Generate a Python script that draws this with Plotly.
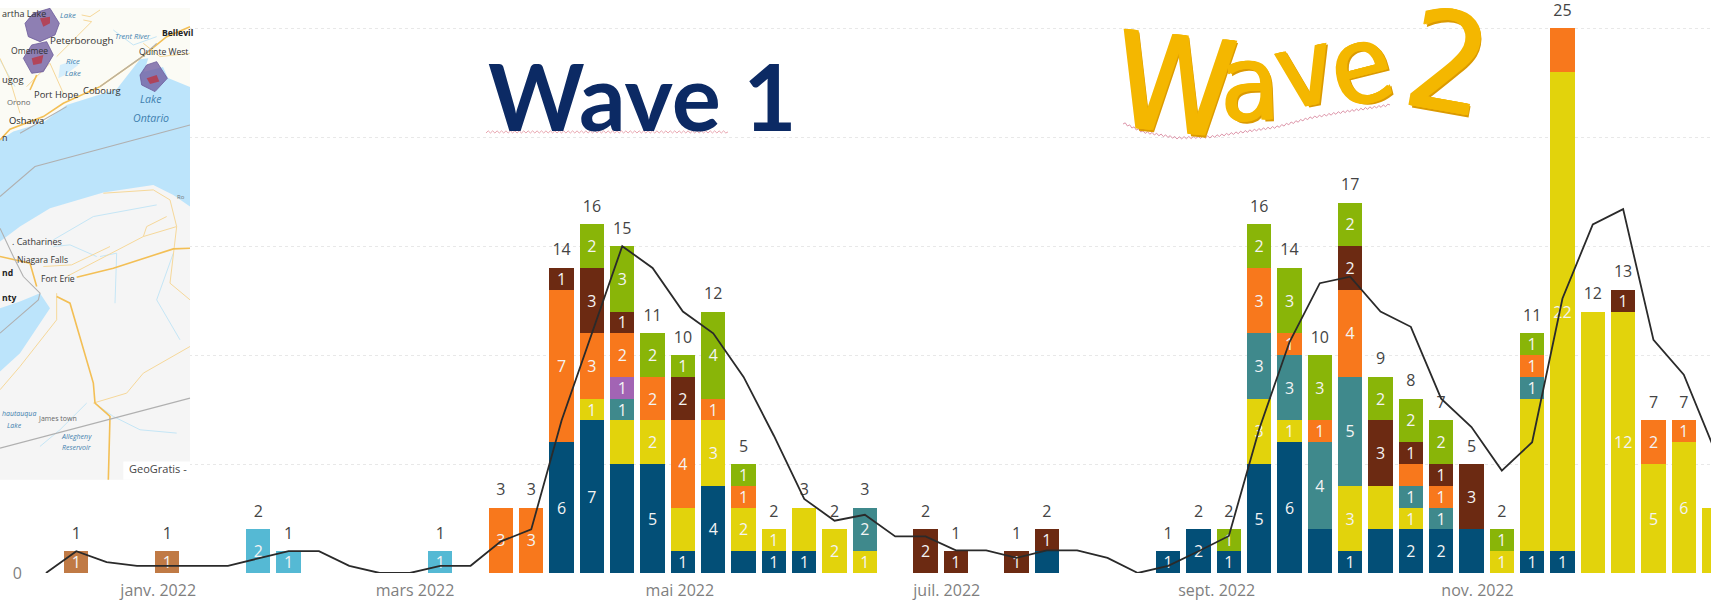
import plotly.graph_objects as go

# ---------- data ----------
weeks = list(range(0, 55))
line_weeks = list(range(-1, 55))
line_values = [0, 1, .5, .33, .33, .33, .33, .67, 1, 1, .33, 0, 0, .33, .33, 1.45, 2, 7, 11, 15, 14, 12, 11, 9, 6.3, 3.4, 2.4,
               2.67, 1.68, 1.68, 1.04, 1.04, .7, 1.04, 1.04, .69, 0, .33, 1, 1.7, 6.6, 10.6, 13.3, 13.6, 12, 11.3, 8, 6.7, 4.7, 6,
               12.6, 16, 16.7, 10.7, 9.1, 5.7]

def week_series(pairs):
    return [pairs.get(w, None) for w in weeks]

tan = week_series({0: 1, 3: 1})
cyan = week_series({6: 2, 7: 1, 12: 1})
navy = week_series({16: 6, 17: 7, 18: 5, 19: 5, 20: 1, 21: 4, 22: 1, 23: 1, 24: 1, 32: 1, 36: 1, 37: 2, 38: 1, 39: 5, 40: 6, 41: 2,
                    42: 1, 43: 2, 44: 2, 45: 2, 46: 2, 48: 1, 49: 1})
yellow = week_series({17: 1, 18: 2, 19: 2, 20: 2, 21: 3, 22: 2, 23: 1, 24: 2, 25: 2, 26: 1, 39: 3, 40: 1, 42: 3, 43: 2, 44: 1, 47: 1,
                      48: 7, 49: 22, 50: 12, 51: 12, 52: 5, 53: 6, 54: 3})
teal = week_series({18: 1, 26: 2, 39: 3, 40: 3, 41: 4, 42: 5, 44: 1, 45: 1, 48: 1})
purple = week_series({18: 1})
orange = week_series({14: 3, 15: 3, 16: 7, 17: 3, 18: 2, 19: 2, 20: 4, 21: 1, 22: 1, 39: 3, 40: 1, 41: 1, 42: 4, 44: 1, 45: 1, 48: 1,
                      49: 2, 52: 2, 53: 1})
maroon = week_series({16: 1, 17: 3, 18: 1, 20: 2, 28: 2, 29: 1, 31: 1, 32: 1, 42: 2, 43: 3, 44: 1, 45: 1, 46: 3, 51: 1})
green = week_series({17: 2, 18: 3, 19: 2, 20: 1, 21: 4, 22: 1, 38: 1, 39: 2, 40: 3, 41: 3, 42: 2, 43: 2, 44: 2, 45: 2, 47: 1, 48: 1})

hidden_labels = {"navy": [18, 22, 32, 41, 43, 46],
                 "yellow": [18, 20, 24, 43, 48, 50, 54],
                 "orange": [44, 49]}

tick_positions = [2.7, 11.17, 19.9, 28.7, 37.6, 46.2]
tick_labels = ["janv. 2022", "mars 2022", "mai 2022", "juil. 2022", "sept. 2022", "nov. 2022"]

stack = [("navy", navy, "#034F77"), ("yellow", yellow, "#E2D30C"), ("teal", teal, "#3F898C"), ("purple", purple, "#A264B4"),
         ("orange", orange, "#F8781C"), ("maroon", maroon, "#6C2A12"), ("green", green, "#89B508"),
         ("tan", tan, "#C07A45"), ("cyan", cyan, "#55B9D4")]

# ---------- layout geometry (pixels) ----------
W, H = 1711, 603
PL, Y0 = 33, 573.3
X_ZERO, X_STEP, Y_UNIT = 76.3, 30.33, 21.8

def px(x):
    return (x - PL) / (W - PL)

def py(y):
    return (Y0 - y) / Y0

fig = go.Figure()

for name, vals, col in stack:
    hide = hidden_labels.get(name, [])
    text = ["" if (v is None or w in hide) else str(v) for w, v in zip(weeks, vals)]
    fig.add_bar(x=weeks, y=vals, name=name, marker=dict(color=col, line_width=0), width=0.8, text=text,
                textposition="inside", insidetextanchor="middle", textangle=0, constraintext="none",
                textfont=dict(color="#F4F4F4", size=16, family="Open Sans"), hoverinfo="skip")

totals = [sum((s[1][i] or 0) for s in stack) for i in range(len(weeks))]
lab_x = [w for w, t in zip(weeks, totals) if t]
lab_y = [t for t in totals if t]
fig.add_scatter(x=lab_x, y=lab_y, mode="markers+text", text=[str(t) for t in lab_y], textposition="top center",
                marker=dict(size=12, opacity=0), textfont=dict(color="#444444", size=16, family="Open Sans"),
                cliponaxis=False, hoverinfo="skip")
fig.add_scatter(x=line_weeks, y=line_values, mode="lines", line=dict(color="#2A2A2A", width=1.8), hoverinfo="skip")

shapes, annos = [], []

def path_of(points, closed=False):
    s = "M" + " L".join(f"{px(x):.5f},{py(y):.5f}" for x, y in points)
    return s + (" Z" if closed else "")

def poly(points3x, fill, line="rgba(0,0,0,0)", lw=0):
    pts = [(x / 3, y / 3) for x, y in points3x]
    shapes.append(dict(type="path", xref="paper", yref="paper", path=path_of(pts, True), fillcolor=fill,
                       line=dict(color=line, width=lw), layer="above"))

def road(points3x, col, lw):
    pts = [(x / 3, y / 3) for x, y in points3x]
    shapes.append(dict(type="path", xref="paper", yref="paper", path=path_of(pts), line=dict(color=col, width=lw), layer="above"))

def label(text, x3, y3, size=11, col="#333333", italic=False, bold=False, anchor="left"):
    t = f"<b>{text}</b>" if bold else text
    t = f"<i>{t}</i>" if italic else t
    annos.append(dict(text=t, xref="paper", yref="paper", x=px(x3 / 3), y=py(y3 / 3), xanchor=anchor, yanchor="middle",
                      showarrow=False, font=dict(size=size, color=col, family="Open Sans")))

def zigzag(points, col, amp=1.1, step=2.2):
    out = []
    flip = 1
    for (x1, y1), (x2, y2) in zip(points, points[1:]):
        n = max(1, int((x2 - x1) / step))
        for k in range(n):
            out.append((x1 + (x2 - x1) * k / n, y1 + (y2 - y1) * k / n + flip * amp))
            flip = -flip
    out.append(points[-1])
    shapes.append(dict(type="path", xref="paper", yref="paper", path=path_of(out), line=dict(color=col, width=0.9), layer="above"))

# ---------- map inset (decoration), coordinates are pixels x3 ----------
poly([(0, 0), (570, 0), (570, 1440), (0, 1440)], "#FFFFFF")
poly([(0, 25), (570, 25), (570, 1440), (0, 1440)], "#F5F5F5")
poly([(0, 25), (570, 25), (570, 300), (420, 180), (350, 268), (200, 315), (130, 368), (0, 420)], "#FBFBF5")
poly([(0, 420), (40, 395), (130, 368), (200, 315), (350, 268), (420, 178), (445, 175), (432, 215), (489, 201), (504, 234),
      (570, 261), (570, 620), (520, 585), (460, 555), (310, 578), (150, 625), (60, 680), (0, 725)], "#BCE4FB")
poly([(0, 925), (60, 905), (120, 880), (150, 925), (100, 1000), (60, 1060), (0, 1115)], "#BCE4FB")
poly([(180, 195), (225, 180), (235, 195), (195, 225), (175, 235)], "#D5EEFC")

for pts in ([(340, 90), (400, 135), (470, 110)], [(0, 180), (45, 260)], [(160, 720), (280, 650), (470, 615)],
            [(290, 1215), (340, 1250), (420, 1290), (530, 1300)], [(120, 1340), (180, 1290), (260, 1210)],
            [(300, 770), (350, 760), (345, 910)], [(160, 740), (210, 735), (290, 770)], [(540, 1020), (470, 900), (520, 760)]):
    road(pts, "#C5E6F6", 1)
for pts in ([(310, 580), (460, 570), (510, 600), (530, 680), (430, 710), (200, 830)], [(0, 1170), (60, 1100), (170, 960), (170, 880)],
            [(280, 1210), (380, 1180), (430, 1120), (570, 1040)], [(430, 710), (440, 680), (500, 650)], [(530, 680), (510, 850), (570, 900)],
            [(80, 260), (100, 240), (150, 190), (190, 280)], [(250, 60), (275, 65), (170, 170)], [(300, 30), (270, 50), (245, 45)],
            [(0, 175), (30, 240), (60, 340)], [(570, 160), (480, 170), (430, 130)], [(130, 800), (215, 795), (330, 740)]):
    road(pts, "#F6D89A", 1)
for pts in ([(0, 420), (30, 388), (130, 350), (190, 310), (300, 260), (420, 175), (500, 110), (570, 80)],
            [(230, 832), (340, 805), (520, 747), (570, 745)], [(170, 890), (210, 910), (280, 1150), (285, 1210), (330, 1250), (325, 1440)],
            [(0, 770), (90, 790), (110, 860)], [(90, 270), (110, 225)]):
    road(pts, "#F3BF55", 1.6)
for pts in ([(0, 590), (105, 500), (570, 375)], [(0, 1345), (570, 1195)], [(0, 685), (40, 770), (70, 830), (120, 880), (115, 900), (0, 1000)],
            [(200, 320), (130, 360), (60, 400)], [(300, 260), (420, 175), (470, 130)]):
    road(pts, "#B0B0B0", 1.1)

for outer, core in (
    ([(75, 70), (100, 40), (150, 25), (178, 70), (165, 105), (120, 125), (85, 110)], [(120, 55), (150, 50), (150, 70), (130, 80)]),
    ([(70, 175), (95, 135), (140, 125), (160, 165), (130, 215), (95, 220)], [(95, 175), (130, 165), (125, 190), (100, 195)]),
    ([(420, 225), (440, 195), (470, 185), (502, 235), (465, 275), (425, 255)], [(440, 235), (470, 225), (478, 245), (450, 252)])):
    poly(outer, "rgba(112,92,160,0.78)", "#6B5A9A", 0.8)
    poly(core, "rgba(190,50,60,0.75)")

for args in (
    ("artha Lake", 0, 40, 9), ("Peterborough", 145, 122, 9.8), ("Omemee", 28, 152, 8.6), ("ugog", 0, 240, 9.4),
    ("Port Hope", 97, 284, 9.4), ("Cobourg", 242, 272, 9.4), ("Orono", 14, 307, 7.8, "#666666"), ("Oshawa", 22, 361, 9.4, "#222222"),
    ("n", 0, 412, 9), (". Catharines", 30, 726, 9), ("Niagara Falls", 44, 780, 8.6), ("Fort Erie", 118, 836, 8.6),
    ("nd", 0, 820, 8.6, "#222222", False, True), ("nty", 0, 893, 8.6, "#222222", False, True), ("James town", 108, 1257, 7, "#666666"),
    ("Quinte West", 412, 157, 8.6), ("Bellevil", 480, 100, 8.6, "#222222", False, True),
    ("Lake", 174, 45, 7.8, "#3F7FAE", True), ("Trent River", 340, 107, 7.4, "#3F7FAE", True), ("Rice", 192, 184, 7.8, "#3F7FAE", True),
    ("Lake", 190, 220, 7.8, "#3F7FAE", True), ("Lake", 415, 298, 10.6, "#3F7FAE", True), ("Ontario", 392, 354, 10.6, "#3F7FAE", True),
    ("hautauqua", 0, 1241, 7, "#3F7FAE", True), ("Lake", 15, 1278, 7, "#3F7FAE", True), ("Allegheny", 178, 1310, 7, "#3F7FAE", True),
    ("Reservoir", 180, 1342, 7, "#3F7FAE", True), ("Ro", 526, 590, 6, "#777777")):
    label(*args)

poly([(370, 1385), (570, 1385), (570, 1440), (370, 1440)], "#FFFFFF")
label("GeoGratis -", 381, 1405, 11, "#444444")

# ---------- hand-drawn titles ----------
annos.append(dict(text="<b>Wave 1</b>", xref="paper", yref="paper", x=px(642), y=py(96), xanchor="center", yanchor="middle", showarrow=False,
                  font=dict(size=92, color="#0C2A64", family="Lato")))
zigzag([(486, 132), (728, 132)], "#E59BA6")

WA = dict(family="DejaVu Sans Condensed, Roboto, sans-serif", color="#F4B700",
          shadow="2px 0 0 #F4B700, -1px 0 0 #F4B700, 3px 2px 0 #DB9A00")
for ch, cx, cy, size, ang in (("W", 1174, 86, 134, 6), ("a", 1249, 84, 106, -2), ("v", 1304, 70, 106, -12), ("e", 1360, 66, 108, -14), ("2", 1447, 64, 138, 10)):
    annos.append(dict(text=ch, xref="paper", yref="paper", x=px(cx), y=py(cy), xanchor="center", yanchor="middle", showarrow=False,
                      textangle=ang, font=dict(size=size, **WA)))
zigzag([(1123, 123), (1143, 132), (1177, 138), (1210, 137), (1243, 132), (1277, 127), (1310, 118), (1343, 112), (1390, 105)], "#D98AA0")

fig.update_layout(
    width=W, height=H, margin=dict(l=PL, r=0, t=0, b=H - Y0), barmode="stack", bargap=0.2, showlegend=False,
    plot_bgcolor="#FFFFFF", paper_bgcolor="#FFFFFF", shapes=shapes, annotations=annos,
    xaxis=dict(range=[(PL - X_ZERO) / X_STEP, (W - X_ZERO) / X_STEP], tickvals=tick_positions, ticktext=tick_labels, showgrid=False,
               zeroline=False, showline=False, ticks="", ticklabelstandoff=6, tickfont=dict(size=16, color="#7F7F7F", family="Open Sans")),
    yaxis=dict(range=[0, Y0 / Y_UNIT], tickvals=[0, 5, 10, 15, 20, 25], showgrid=True, gridcolor="#E8E8E8", griddash="dot", gridwidth=1,
               zeroline=False, showline=False, ticks="", ticklabelstandoff=10, tickfont=dict(size=16, color="#7F7F7F", family="Open Sans")),
)

fig.write_html("out.html", config=dict(displayModeBar=False), post_script="document.body.style.margin='0';document.body.style.overflow='hidden';")
